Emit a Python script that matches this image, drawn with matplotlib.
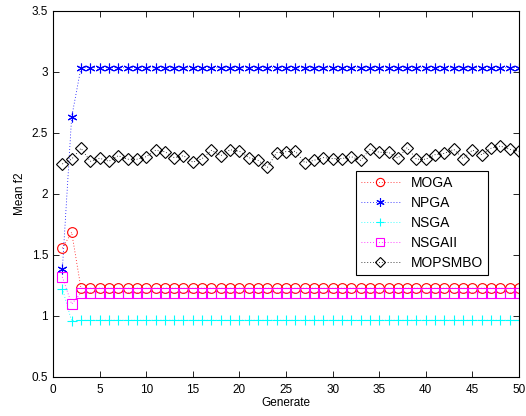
import numpy as np
import matplotlib
matplotlib.use('Agg')
import matplotlib.pyplot as plt

plt.rcParams['font.family'] = ['Liberation Sans', 'DejaVu Sans']

generations = np.arange(1, 51)

moga = [1.555, 1.686] + [1.227] * 48
npga = [1.383, 2.63] + [3.035] * 48
nsga = [1.224, 0.959] + [0.965] * 48
nsgaii = [1.32, 1.098] + [1.19] * 48
mopsmbo = [2.246, 2.285, 2.375, 2.268, 2.293, 2.268, 2.314, 2.285, 2.285, 2.306,
           2.358, 2.347, 2.298, 2.314, 2.260, 2.290, 2.358, 2.314, 2.363, 2.350,
           2.298, 2.276, 2.219, 2.339, 2.347, 2.350, 2.257, 2.276, 2.298, 2.290,
           2.290, 2.306, 2.276, 2.366, 2.342, 2.342, 2.293, 2.380, 2.285, 2.285,
           2.322, 2.333, 2.366, 2.290, 2.360, 2.322, 2.375, 2.393, 2.366, 2.350]

# name, values, colour, marker, marker size
series = [
    ('MOGA', moga, 'red', 'o', 7),
    ('NPGA', npga, 'blue', (6, 2, 0), 7),
    ('NSGA', nsga, 'cyan', '+', 7),
    ('NSGAII', nsgaii, 'magenta', 's', 7),
    ('MOPSMBO', mopsmbo, 'black', 'D', 6),
]

fig = plt.figure(figsize=(5.26, 4.16), dpi=100)
ax = fig.add_axes([0.1008, 0.0938, 0.8859, 0.8798])

for name, vals, color, marker, ms in series:
    ax.plot(generations, vals, linestyle=(0, (1, 2.5)), color=color, linewidth=0.6,
            marker=marker, markersize=ms, markerfacecolor='none',
            markeredgecolor=color, markeredgewidth=0.8, label=name)

ax.set_xlim(0, 50)
ax.set_ylim(0.5, 3.5)
ax.set_xticks(np.arange(0, 51, 5))
ax.set_yticks(np.arange(0.5, 3.51, 0.5))
ax.set_yticklabels(['0.5', '1', '1.5', '2', '2.5', '3', '3.5'])
ax.tick_params(direction='in', top=True, right=True, labelsize=8.5, length=4, width=0.6)
ax.tick_params(axis='x', pad=5)
for s in ax.spines.values():
    s.set_linewidth(0.8)
ax.set_xlabel('Generate', fontsize=8.5, labelpad=1)
ax.set_ylabel('Mean f2', fontsize=8.5, labelpad=4)

leg = ax.legend(loc='upper left', bbox_to_anchor=(0.65, 0.563), fontsize=10,
                fancybox=False, edgecolor='black', framealpha=1,
                handlelength=2.8, handletextpad=0.8, labelspacing=0.43,
                borderpad=0.35, borderaxespad=0, markerscale=0.85)
leg.get_frame().set_linewidth(0.8)

fig.savefig('out.png', dpi=100)
